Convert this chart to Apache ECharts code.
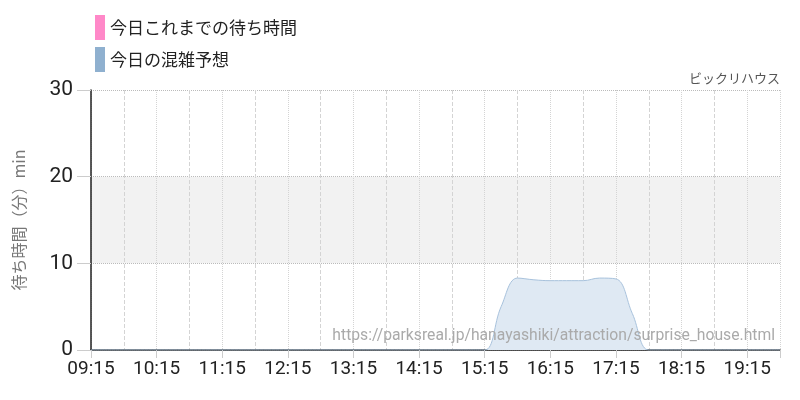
<!DOCTYPE html>
<html><head><meta charset="utf-8">
<script src="https://cdn.jsdelivr.net/npm/echarts@6/dist/echarts.min.js"></script>
<style>html,body{margin:0;padding:0;background:#fff}#c{width:800px;height:400px}</style>
</head><body><div id="c"></div>
<script>
const times = ['09:15','09:30','09:45','10:00','10:15','10:30','10:45','11:00','11:15','11:30','11:45','12:00','12:15','12:30','12:45','13:00','13:15','13:30','13:45','14:00','14:15','14:30','14:45','15:00','15:15','15:30','15:45','16:00','16:15','16:30','16:45','17:00','17:15','17:30','17:45','18:00','18:15','18:30','18:45','19:00','19:15','19:30','19:45'];
const forecast = [0,0,0,0,0,0,0,0,0,0,0,0,0,0,0,0,0,0,0,0,0,0,0,0,0,5.0,8.3,8.1,8.0,8.0,8.0,8.3,8.2,4.2,0,0,0,0,0,0,0,0,0];
const actual = [];
const yTicks = [0,10,20,30];
const seriesNames = ['今日これまでの待ち時間','今日の混雑予想'];
const startMin = 9*60+15;
function toOff(t){const p=t.split(':');return (+p[0])*60+(+p[1])-startMin;}
function fmt(v){const m=v+startMin;const h=Math.floor(m/60),mm=m%60;return String(h).padStart(2,'0')+':'+String(mm).padStart(2,'0');}
const numFont = 'Roboto,sans-serif';
const chart = echarts.init(document.getElementById('c'));
chart.setOption({
  animation:false,
  grid:{left:91,right:20,top:90,bottom:50},
  legend:{orient:'vertical',left:90,top:10,itemWidth:10,itemHeight:25,itemGap:7,icon:'rect',
    textStyle:{fontSize:17,color:'#222',fontFamily:'"Noto Sans CJK JP",sans-serif'},
    data:seriesNames},
  graphic:[
    {type:'text',right:20,top:72,style:{text:'ビックリハウス',fontSize:13,fill:'#555',fontFamily:'"Noto Sans CJK JP",sans-serif'}},
    {type:'text',right:25,top:328,z:10,style:{text:'https://parksreal.jp/hanayashiki/attraction/surprise_house.html',fontSize:15.7,fill:'#aaa',fontFamily:'Roboto,sans-serif'}}
  ],
  xAxis:{type:'value',min:0,max:toOff('19:45'),interval:60,
    axisLine:{lineStyle:{color:'#222',width:1.5}},
    axisTick:{show:true,length:8,lineStyle:{color:'#ccc'}},
    axisLabel:{fontSize:19,color:'#222',fontFamily:numFont,margin:10,
      formatter:function(v){return (v%60===0)?fmt(v):'';}},
    splitLine:{show:true,lineStyle:{color:'#d4d4d4',type:'dotted'}},
    minorTick:{show:false,splitNumber:2},
    minorSplitLine:{show:true,lineStyle:{color:'#d4d4d4',type:'dashed'}}
  },
  yAxis:{type:'value',min:yTicks[0],max:yTicks[yTicks.length-1],interval:10,
    name:'待ち時間（分）min',nameLocation:'middle',nameGap:64,nameRotate:90,
    nameTextStyle:{fontSize:16,color:'#777',fontFamily:'"Noto Sans CJK JP",sans-serif'},
    axisLine:{show:true,lineStyle:{color:'#222',width:1.5}},
    axisTick:{show:true,length:14,lineStyle:{color:'#ccc'}},
    axisLabel:{fontSize:21,color:'#222',fontFamily:numFont,margin:18},
    splitLine:{show:true,lineStyle:{color:'#bbb',type:'dotted'}},
    splitArea:{show:true,areaStyle:{color:['rgba(0,0,0,0)','#f2f2f2','rgba(0,0,0,0)']}}
  },
  series:[
    {name:seriesNames[0],type:'line',color:'#ff88c8',showSymbol:false,
      data:actual.map((v,i)=>[toOff(times[i]),v])},
    {name:seriesNames[1],type:'line',color:'#8fb0cf',smooth:0.4,showSymbol:false,
      lineStyle:{color:'#a8c2dc',width:1},
      areaStyle:{color:'#dfe9f3',opacity:1},
      data:forecast.map((v,i)=>[toOff(times[i]),v])}
  ]
});
</script></body></html>
